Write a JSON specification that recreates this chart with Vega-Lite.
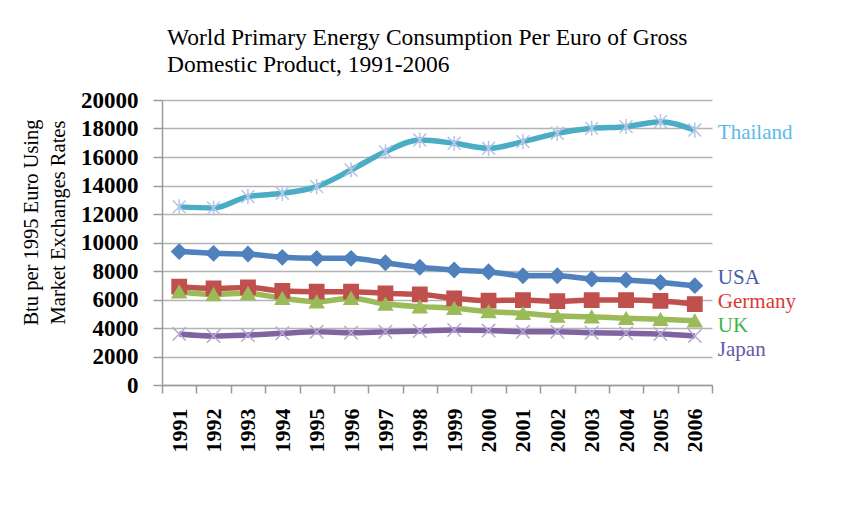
{
  "$schema": "https://vega.github.io/schema/vega-lite/v6.json",
  "autosize": {"type": "none"},
  "width": 550,
  "height": 285,
  "padding": {"left": 162, "top": 100, "right": 131, "bottom": 132},
  "background": "white",
  "config": {
    "font": "Liberation Serif",
    "view": {"stroke": null}
  },
  "title": {
    "text": ["World Primary Energy Consumption Per Euro of Gross", "Domestic Product, 1991-2006"],
    "anchor": "start",
    "frame": "group",
    "font": "Liberation Serif",
    "fontSize": 23.5,
    "fontWeight": "normal",
    "color": "black",
    "lineHeight": 27,
    "offset": 13,
    "dx": 5
  },
  "datasets": {
    "energy": [
      {"series": "USA", "year": 1991, "value": 9360},
      {"series": "USA", "year": 1992, "value": 9240},
      {"series": "USA", "year": 1993, "value": 9190},
      {"series": "USA", "year": 1994, "value": 8960},
      {"series": "USA", "year": 1995, "value": 8890},
      {"series": "USA", "year": 1996, "value": 8890},
      {"series": "USA", "year": 1997, "value": 8580},
      {"series": "USA", "year": 1998, "value": 8260},
      {"series": "USA", "year": 1999, "value": 8070},
      {"series": "USA", "year": 2000, "value": 7950},
      {"series": "USA", "year": 2001, "value": 7670},
      {"series": "USA", "year": 2002, "value": 7670},
      {"series": "USA", "year": 2003, "value": 7440},
      {"series": "USA", "year": 2004, "value": 7370},
      {"series": "USA", "year": 2005, "value": 7200},
      {"series": "USA", "year": 2006, "value": 6970},
      {"series": "Germany", "year": 1991, "value": 6900},
      {"series": "Germany", "year": 1992, "value": 6780},
      {"series": "Germany", "year": 1993, "value": 6850},
      {"series": "Germany", "year": 1994, "value": 6600},
      {"series": "Germany", "year": 1995, "value": 6550},
      {"series": "Germany", "year": 1996, "value": 6550},
      {"series": "Germany", "year": 1997, "value": 6430},
      {"series": "Germany", "year": 1998, "value": 6360},
      {"series": "Germany", "year": 1999, "value": 6080},
      {"series": "Germany", "year": 2000, "value": 5920},
      {"series": "Germany", "year": 2001, "value": 5960},
      {"series": "Germany", "year": 2002, "value": 5880},
      {"series": "Germany", "year": 2003, "value": 5960},
      {"series": "Germany", "year": 2004, "value": 5960},
      {"series": "Germany", "year": 2005, "value": 5900},
      {"series": "Germany", "year": 2006, "value": 5680},
      {"series": "UK", "year": 1991, "value": 6550},
      {"series": "UK", "year": 1992, "value": 6360},
      {"series": "UK", "year": 1993, "value": 6430},
      {"series": "UK", "year": 1994, "value": 6080},
      {"series": "UK", "year": 1995, "value": 5850},
      {"series": "UK", "year": 1996, "value": 6080},
      {"series": "UK", "year": 1997, "value": 5680},
      {"series": "UK", "year": 1998, "value": 5500},
      {"series": "UK", "year": 1999, "value": 5380},
      {"series": "UK", "year": 2000, "value": 5150},
      {"series": "UK", "year": 2001, "value": 5030},
      {"series": "UK", "year": 2002, "value": 4840},
      {"series": "UK", "year": 2003, "value": 4790},
      {"series": "UK", "year": 2004, "value": 4680},
      {"series": "UK", "year": 2005, "value": 4610},
      {"series": "UK", "year": 2006, "value": 4510},
      {"series": "Japan", "year": 1991, "value": 3580},
      {"series": "Japan", "year": 1992, "value": 3440},
      {"series": "Japan", "year": 1993, "value": 3510},
      {"series": "Japan", "year": 1994, "value": 3630},
      {"series": "Japan", "year": 1995, "value": 3740},
      {"series": "Japan", "year": 1996, "value": 3670},
      {"series": "Japan", "year": 1997, "value": 3740},
      {"series": "Japan", "year": 1998, "value": 3790},
      {"series": "Japan", "year": 1999, "value": 3860},
      {"series": "Japan", "year": 2000, "value": 3820},
      {"series": "Japan", "year": 2001, "value": 3740},
      {"series": "Japan", "year": 2002, "value": 3740},
      {"series": "Japan", "year": 2003, "value": 3670},
      {"series": "Japan", "year": 2004, "value": 3630},
      {"series": "Japan", "year": 2005, "value": 3580},
      {"series": "Japan", "year": 2006, "value": 3440},
      {"series": "Thailand", "year": 1991, "value": 12500},
      {"series": "Thailand", "year": 1992, "value": 12420},
      {"series": "Thailand", "year": 1993, "value": 13220},
      {"series": "Thailand", "year": 1994, "value": 13450},
      {"series": "Thailand", "year": 1995, "value": 13920},
      {"series": "Thailand", "year": 1996, "value": 15090},
      {"series": "Thailand", "year": 1997, "value": 16370},
      {"series": "Thailand", "year": 1998, "value": 17190},
      {"series": "Thailand", "year": 1999, "value": 16960},
      {"series": "Thailand", "year": 2000, "value": 16610},
      {"series": "Thailand", "year": 2001, "value": 17080},
      {"series": "Thailand", "year": 2002, "value": 17660},
      {"series": "Thailand", "year": 2003, "value": 18010},
      {"series": "Thailand", "year": 2004, "value": 18130},
      {"series": "Thailand", "year": 2005, "value": 18480},
      {"series": "Thailand", "year": 2006, "value": 17890}
    ],
    "labels": [
      {"series": "Thailand", "year": 2006, "value": 17650},
      {"series": "USA", "year": 2006, "value": 7500},
      {"series": "Germany", "year": 2006, "value": 5850},
      {"series": "UK", "year": 2006, "value": 4150},
      {"series": "Japan", "year": 2006, "value": 2450}
    ]
  },
  "encoding": {
    "x": {
      "field": "year",
      "type": "ordinal",
      "bandPosition": 0.5,
      "scale": {"type": "band", "paddingInner": 0, "paddingOuter": 0},
      "axis": {
        "title": null,
        "labelAngle": -90,
        "labelFont": "Liberation Serif",
        "labelFontSize": 22,
        "labelFontWeight": "bold",
        "labelColor": "black",
        "labelPadding": 15,
        "tickBand": "extent",
        "tickSize": 8,
        "tickColor": "#9a9a9a",
        "domainColor": "#9a9a9a",
        "domainWidth": 1.5,
        "tickWidth": 1.5,
        "grid": false
      }
    },
    "y": {
      "field": "value",
      "type": "quantitative",
      "scale": {"domain": [0, 20000], "nice": false},
      "axis": {
        "title": ["Btu per 1995 Euro Using", "Market Exchanges Rates"],
        "titleFont": "Liberation Serif",
        "titleFontSize": 20.5,
        "titleFontWeight": "normal",
        "titleColor": "black",
        "titleLineHeight": 27,
        "titlePadding": 12,
        "titleY": 122,
        "values": [0, 2000, 4000, 6000, 8000, 10000, 12000, 14000, 16000, 18000, 20000],
        "format": "d",
        "labelFont": "Liberation Serif",
        "labelFontSize": 23,
        "labelFontWeight": "bold",
        "labelColor": "black",
        "labelPadding": 15,
        "tickSize": 9,
        "tickColor": "#9a9a9a",
        "tickWidth": 1.5,
        "domainColor": "#9a9a9a",
        "domainWidth": 1.5,
        "grid": true,
        "gridColor": "#b4b4b4",
        "gridWidth": 1.5
      }
    }
  },
  "layer": [
    {
      "data": {"name": "energy"},
      "mark": {"type": "line", "strokeWidth": 5.5, "interpolate": "monotone"},
      "encoding": {
        "color": {
          "field": "series",
          "type": "nominal",
          "scale": {
            "domain": ["Thailand", "USA", "Germany", "UK", "Japan"],
            "range": ["#4BACC6", "#4F81BD", "#C0504D", "#9BBB59", "#8064A2"]
          },
          "legend": null
        },
        "order": {"value": 0}
      }
    },
    {
      "data": {"name": "energy"},
      "mark": {"type": "point", "strokeWidth": 1.5, "opacity": 1},
      "encoding": {
        "shape": {
          "field": "series",
          "type": "nominal",
          "scale": {
            "domain": ["Thailand", "USA", "Germany", "UK", "Japan"],
            "range": ["M0,-1L0,1M-0.85,-0.85L0.85,0.85M-0.85,0.85L0.85,-0.85", "diamond", "square", "triangle-up", "M-1,-1L1,1M-1,1L1,-1"]
          },
          "legend": null
        },
        "fill": {
          "field": "series",
          "type": "nominal",
          "scale": {
            "domain": ["Thailand", "USA", "Germany", "UK", "Japan"],
            "range": ["transparent", "#4F81BD", "#C0504D", "#9BBB59", "transparent"]
          },
          "legend": null
        },
        "stroke": {
          "field": "series",
          "type": "nominal",
          "scale": {
            "domain": ["Thailand", "USA", "Germany", "UK", "Japan"],
            "range": ["#B4C6E6", "#4F81BD", "#C0504D", "#9BBB59", "#B6A8D2"]
          },
          "legend": null
        },
        "size": {
          "field": "series",
          "type": "nominal",
          "scale": {
            "domain": ["Thailand", "USA", "Germany", "UK", "Japan"],
            "range": [230, 180, 210, 180, 170]
          },
          "legend": null
        }
      }
    },
    {
      "data": {"name": "labels"},
      "mark": {"type": "text", "align": "left", "baseline": "middle", "dx": 23, "font": "Liberation Serif", "fontSize": 21},
      "encoding": {
        "text": {"field": "series"},
        "color": {
          "field": "series",
          "type": "nominal",
          "scale": {
            "domain": ["Thailand", "USA", "Germany", "UK", "Japan"],
            "range": ["#5BB9E9", "#3F5CAA", "#D93A33", "#3DB54A", "#6559A8"]
          },
          "legend": null
        }
      }
    }
  ],
  "resolve": {"scale": {"color": "independent"}}
}
